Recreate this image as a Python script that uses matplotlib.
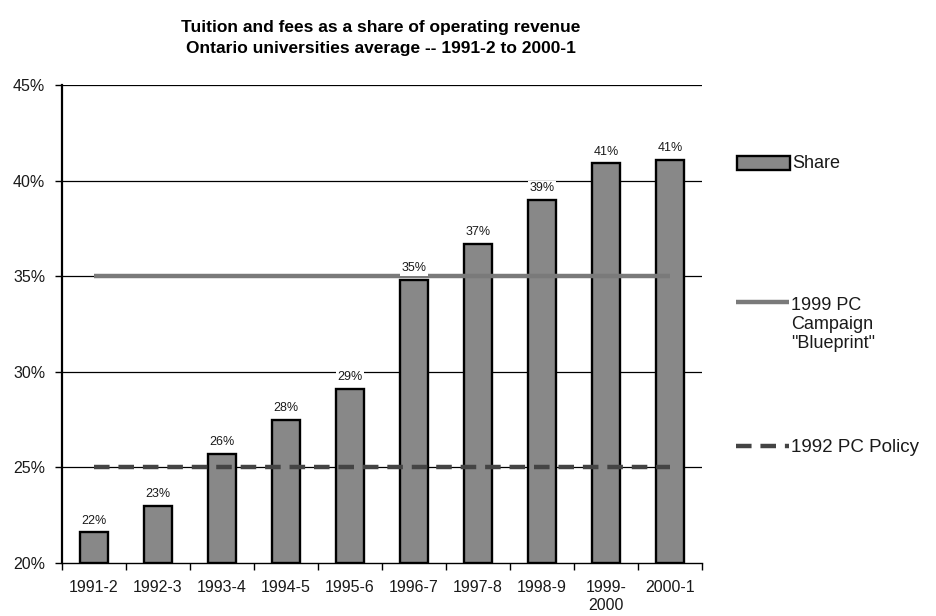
import matplotlib
matplotlib.use("Agg")
import matplotlib.pyplot as plt
from matplotlib.lines import Line2D
from matplotlib.patches import Rectangle
import numpy as np

plt.rcParams['font.family'] = ['Liberation Sans', 'DejaVu Sans']

categories = ["1991-2", "1992-3", "1993-4", "1994-5", "1995-6",
              "1996-7", "1997-8", "1998-9", "1999-\n2000", "2000-1"]
share = [21.6, 23.0, 25.7, 27.5, 29.1, 34.8, 36.7, 39.0, 40.9, 41.1]
bar_labels = ["22%", "23%", "26%", "28%", "29%", "35%", "37%", "39%", "41%", "41%"]
blueprint_level = 35.0
policy_level = 25.0
yticks = [20, 25, 30, 35, 40, 45]
ytick_labels = ["20%", "25%", "30%", "35%", "40%", "45%"]
title = "Tuition and fees as a share of operating revenue\nOntario universities average -- 1991-2 to 2000-1"
legend_labels = ["Share", "1999 PC\nCampaign\n\"Blueprint\"", "1992 PC Policy"]

W, H = 937, 616
def fx(px): return px / W
def fy(py): return 1 - py / H

fig = plt.figure(figsize=(9.37, 6.16), dpi=100)
ax = fig.add_axes([62/W, 1-563/H, (702-62)/W, (563-85)/H])

x = np.arange(len(categories))
bar_color = "#888888"
line_gray = "#7a7a7a"
dash_gray = "#444444"
text_col = "#1a1a1a"

ax.set_ylim(20, 45)
ax.set_xlim(-0.5, len(categories) - 0.5)
for yv in yticks[1:]:
    ax.axhline(yv, color="black", lw=0.9, zorder=1)

ax.bar(x, [s - 20 for s in share], bottom=20, width=0.43, color=bar_color,
       edgecolor="black", linewidth=1.7, zorder=2)

ax.plot([x[0], x[-1]], [blueprint_level, blueprint_level], color=line_gray,
        lw=3.2, solid_capstyle="butt", zorder=3)
ax.plot([x[0], x[-1]], [policy_level, policy_level], color=dash_gray,
        lw=3.2, dashes=(3.5, 2.0), zorder=3)

for xi, s, lab in zip(x, share, bar_labels):
    ax.annotate(lab, (xi, s), xytext=(0, 4), textcoords="offset points",
                ha="center", va="bottom", fontsize=9, color=text_col, zorder=5,
                bbox=dict(boxstyle="square,pad=0.12", fc="white", ec="none"))

ax.set_yticks(yticks)
ax.set_yticklabels(ytick_labels, fontsize=11.5, color=text_col)
ax.set_xticks(x)
ax.set_xticklabels(categories, fontsize=11.5, color=text_col, linespacing=1.25)
ax.set_xticks(np.arange(-0.5, len(categories), 1), minor=True)
ax.tick_params(axis="x", which="major", length=0, pad=12)
ax.tick_params(axis="x", which="minor", length=5, width=1, direction="out")
ax.tick_params(axis="y", length=5, width=1, direction="out", pad=7)
for sp in ["top", "right"]:
    ax.spines[sp].set_visible(False)
ax.spines["left"].set_linewidth(1.6)
ax.spines["bottom"].set_linewidth(1.0)

fig.text(fx(381), fy(38), title, fontsize=12.5, fontweight="bold", ha="center",
         va="center", linespacing=1.5, color="black")

# manual legend
fig.patches.append(Rectangle((fx(737), fy(170)), fx(790) - fx(737), 14/H,
                             transform=fig.transFigure, fc=bar_color, ec="black", lw=1.7))
fig.text(fx(792), fy(163), legend_labels[0], fontsize=13, va="center", ha="left", color=text_col)
fig.add_artist(Line2D([fx(736), fx(789)], [fy(302), fy(302)], transform=fig.transFigure,
                      color=line_gray, lw=3.2, solid_capstyle="butt"))
fig.text(fx(791), fy(297), legend_labels[1], fontsize=13, va="top", ha="left",
         color=text_col, linespacing=1.17)
fig.add_artist(Line2D([fx(736), fx(789)], [fy(446), fy(446)], transform=fig.transFigure,
                      color=dash_gray, lw=3.2, dashes=(3.5, 2.0)))
fig.text(fx(791), fy(447), legend_labels[2], fontsize=13.5, va="center", ha="left", color=text_col)

fig.savefig("out.png", dpi=100)
